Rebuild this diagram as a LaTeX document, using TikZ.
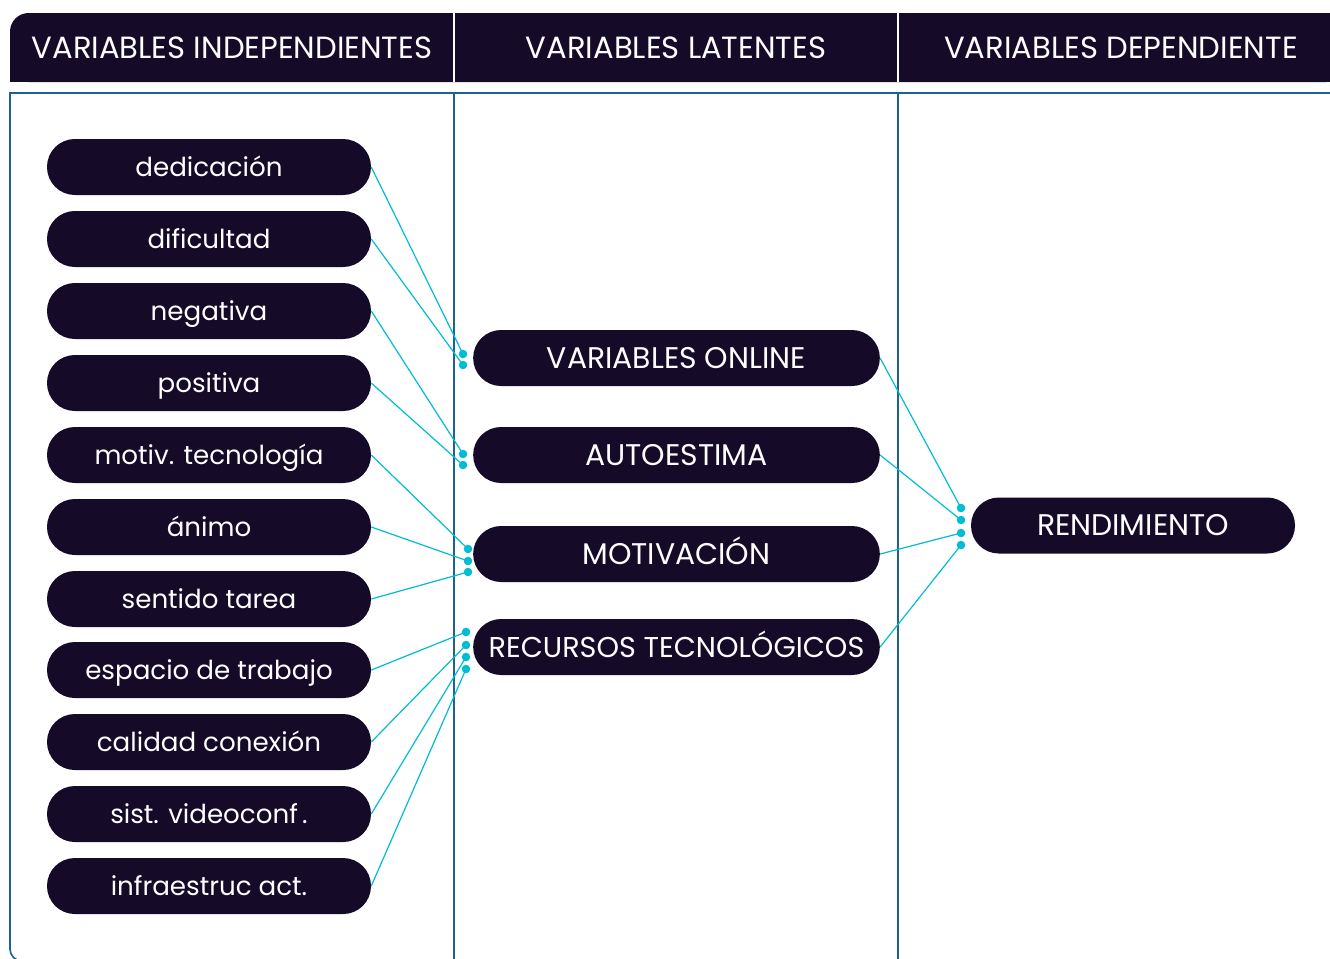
\documentclass[tikz,border=0pt]{standalone}
\usepackage{fontspec}
\setmainfont{Poppins}
\definecolor{navy}{HTML}{150B29}
\definecolor{framec}{HTML}{1D6290}
\definecolor{linkc}{HTML}{00BCD4}
\begin{document}
\begin{tikzpicture}[x=0.75pt,y=-0.75pt,
  pill/.style={fill=navy,text=white,rounded corners=20.9pt,minimum width=243pt,
    minimum height=42pt,inner sep=0pt,text height=13.7pt,text depth=0pt,
    font=\fontsize{19.6}{22}\selectfont},
  cappill/.style={pill,text height=15.6pt,font=\fontsize{22.4}{26}\selectfont},
  widepill/.style={cappill,minimum width=305pt},
  headtxt/.style={text=white,inner sep=0pt,text height=16pt,text depth=0pt,
    font=\fontsize{23}{26}\selectfont},
  link/.style={draw=linkc,line width=0.9pt},
  dot/.style={fill=linkc},
  frameline/.style={draw=framec,line width=1.2pt}]
\useasboundingbox (0,0) rectangle (1330,958);
% header
\fill[navy,rounded corners=14pt] (10,13) rectangle (1345,82);
\fill[navy] (10,50) rectangle (1345,82);
\fill[navy] (300,13) rectangle (1345,50);
\draw[white,line width=1.6pt] (454,13) -- (454,82);
\draw[white,line width=1.6pt] (898,13) -- (898,82);
\node[headtxt] (h1) at (232,48) {VARIABLES INDEPENDIENTES};
\node[headtxt] (h2) at (676,48) {VARIABLES LATENTES};
\node[headtxt] (h3) at (1121,48) {VARIABLES DEPENDIENTE};
% frame
\draw[frameline] (1345,93) -- (10,93) -- (10,900);
\draw[frameline,rounded corners=9pt] (10,899) -- (10,961) -- (200,961);
\draw[frameline] (454,93) -- (454,960);
\draw[frameline] (898,93) -- (898,960);
% left column
\node[pill] (a1) at (209,167) {dedicación};
\node[pill] (a2) at (209,239) {dificultad};
\node[pill] (a3) at (209,311) {negativa};
\node[pill] (a4) at (209,383) {positiva};
\node[pill] (a5) at (209,455) {motiv. tecnología};
\node[pill] (a6) at (209,527) {ánimo};
\node[pill] (a7) at (209,599) {sentido tarea};
\node[pill] (a8) at (209,670) {espacio de trabajo};
\node[pill] (a9) at (209,742) {calidad conexión};
\node[pill] (a10) at (209,814) {sist. videoconf\,.};
\node[pill] (a11) at (209,886) {infraestruc act.};
% middle column
\node[widepill] (m1) at (676.5,358) {VARIABLES ONLINE};
\node[widepill] (m2) at (676.5,455) {AUTOESTIMA};
\node[widepill] (m3) at (676.5,554) {MOTIVACIÓN};
\node[widepill,text height=15pt,font=\fontsize{21.5}{25}\selectfont] (m4) at (676.5,647) {RECURSOS TECNOLÓGICOS};
% right column
\node[cappill] (r1) at (1133,525.5) {RENDIMIENTO};
% dot coordinates
\coordinate (p1) at (463,354);
\coordinate (p2) at (463,365);
\coordinate (p3) at (463,454);
\coordinate (p4) at (463,465);
\coordinate (p5) at (468,549);
\coordinate (p6) at (468,561);
\coordinate (p7) at (468,572);
\coordinate (p8) at (466,632);
\coordinate (p9) at (466,645);
\coordinate (p10) at (466,657);
\coordinate (p11) at (466,669);
\coordinate (q1) at (961,508);
\coordinate (q2) at (961,520);
\coordinate (q3) at (961,533);
\coordinate (q4) at (961,545);
\foreach \i in {1,...,11} {
  \draw[link] (a\i.east) -- (p\i);
  \fill[dot] (p\i) circle[radius=3.2pt];
}
\foreach \i in {1,...,4} {
  \draw[link] (m\i.east) -- (q\i);
  \fill[dot] (q\i) circle[radius=3.2pt];
}
\end{tikzpicture}
\end{document}
